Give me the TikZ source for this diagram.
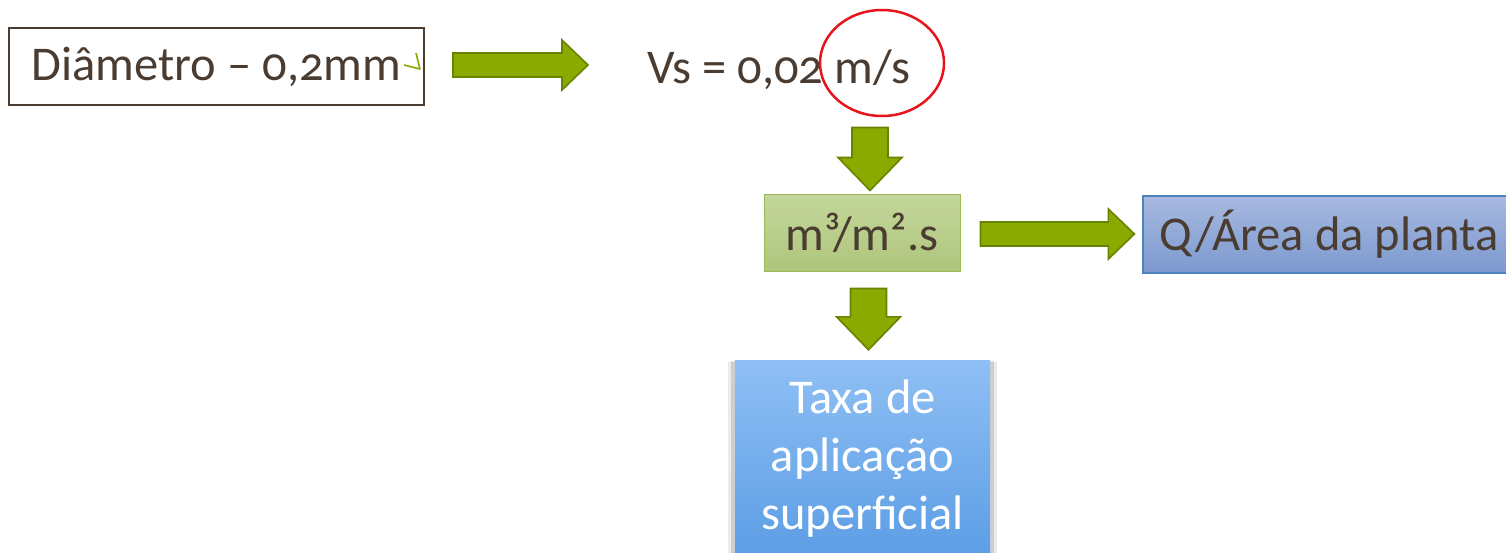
\documentclass[tikz,border=0pt]{standalone}
\usepackage{fontspec}
\setmainfont[Numbers=OldStyle]{Carlito}
\usetikzlibrary{calc,shapes.geometric}
\definecolor{ink}{HTML}{4A3C31}
\definecolor{olive}{HTML}{8AAA00}
\definecolor{oliveedge}{HTML}{688300}
\definecolor{sagetop}{HTML}{C4D79C}
\definecolor{sagebot}{HTML}{AFC57C}
\definecolor{sageedge}{HTML}{9BBB59}
\definecolor{slatetop}{HTML}{A7B9E0}
\definecolor{slatebot}{HTML}{7C99CF}
\definecolor{slateedge}{HTML}{4F81BD}
\definecolor{skytop}{HTML}{8FBFF4}
\definecolor{skybot}{HTML}{5B9DE5}
\definecolor{ringred}{HTML}{E8141B}
\begin{document}
\begin{tikzpicture}[x=1pt,y=-1pt,
  txt/.style={font=\fontsize{48.5}{58}\selectfont, text=ink, inner sep=0pt},
  box/.style={rectangle, minimum height=77pt, inner sep=0pt},
  rightfat/.style={draw=oliveedge, fill=olive, line width=1.6pt, line join=miter,
    to path={let \p1=(\tikztostart), \p2=(\tikztotarget) in
      (\x1,\y1-12pt) -- (\x2-26pt,\y1-12pt) -- (\x2-26pt,\y1-25pt) -- (\x2,\y1)
      -- (\x2-26pt,\y1+25pt) -- (\x2-26pt,\y1+12pt) -- (\x1,\y1+12pt) -- cycle}},
  downfat/.style={draw=oliveedge, fill=olive, line width=1.6pt, line join=miter,
    to path={let \p1=(\tikztostart), \p2=(\tikztotarget) in
      (\x1-18pt,\y1) -- (\x1-18pt,\y2+33pt) -- (\x1-32pt,\y2+33pt) -- (\x1,\y2)
      -- (\x1+32pt,\y2+33pt) -- (\x1+18pt,\y2+33pt) -- (\x1+18pt,\y1) -- cycle}}
]
\useasboundingbox (0,0) rectangle (1506,552);

% first box: particle diameter
\node[box, txt, draw=ink, line width=2pt, minimum width=415pt] (diam) at (216.5,66.5)
  {Diâmetro – 0,2mm};
\draw[olive, line width=1.6pt, line join=round] (404,65) -- (420,69) -- (416,53);

% settling velocity
\node[txt, anchor=base west] (vs) at (647,83) {Vs = 0,02 m/s};
\node[ellipse, draw=ringred, line width=2.5pt, minimum width=124pt, minimum height=106pt,
  inner sep=0pt] (ring) at (882,63) {};

% unit box
\node[box, txt, minimum width=196pt, top color=sagetop, bottom color=sagebot,
  draw=sageedge, line width=1pt] (unit) at (862,232.5) {m³/m².s};

% flow over plant area
\node[box, txt, minimum width=372pt, top color=slatetop, bottom color=slatebot,
  draw=slateedge, line width=1.2pt] (area) at (1329,234.5) {Q/Área da planta};

% surface loading rate box with soft side shadow
\fill[black, opacity=0.08] (728,362) rectangle (997,560);
\fill[black, opacity=0.12] (731,361) rectangle (994,560);
\node[rectangle, minimum width=255pt, minimum height=200pt, inner sep=0pt,
  top color=skytop, bottom color=skybot] (rate) at (862.5,460) {};
\node[txt, text=white, align=center] (ratelbl) at (862.5,459)
  {Taxa de\\aplicação\\superficial};

% connectors
\draw[rightfat] ($(diam.east)+(28,-1.5)$) to ($(diam.east -| vs.west)+(-59,-1.5)$);
\draw[downfat] ($(unit.north)+(8,-66)$) to ($(unit.north)+(8,-3)$);
\draw[rightfat] ($(unit.east)+(20,1.5)$) to ($(unit.east -| area.west)+(-8,1.5)$);
\draw[downfat] ($(unit.south)+(6.5,17)$) to ($(rate.north)+(6,-10)$);
\end{tikzpicture}
\end{document}
